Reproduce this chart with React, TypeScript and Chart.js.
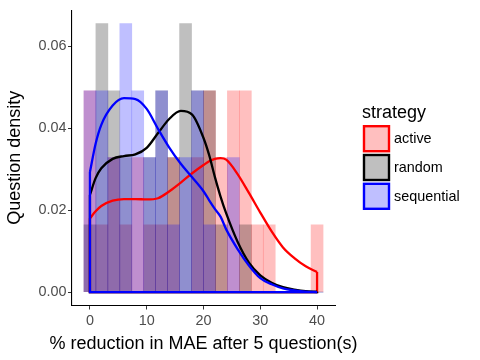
import React, { useEffect, useRef } from "react";
import { Chart, registerables } from "chart.js";

Chart.register(...registerables);

const FONT = '"Liberation Sans", Arial, Helvetica, sans-serif';

const STRATEGIES = ["active", "random", "sequential"];
const LINE_COLORS = ["#FF0000", "#000000", "#0000FF"];
const FILL_COLORS = ["rgba(255,0,0,0.25)", "rgba(0,0,0,0.25)", "rgba(0,0,255,0.25)"];

// histogram bin centres (20 bins over 0..40)
const BIN_CENTERS = [
  0, 2.105, 4.211, 6.316, 8.421, 10.526, 12.632, 14.737, 16.842, 18.947,
  21.053, 23.158, 25.263, 27.368, 29.474, 31.579, 33.684, 35.789, 37.895, 40,
];

// histogram densities per strategy
const HIST_ACTIVE = [
  0.0491, 0.0164, 0.0328, 0.0164, 0.0328, 0.0164, 0.0164, 0.0328, 0, 0.0328,
  0.0491, 0.0328, 0.0491, 0.0491, 0.0164, 0.0164, 0, 0, 0, 0.0164,
];
const HIST_RANDOM = [
  0.0164, 0.0655, 0.0491, 0.0328, 0, 0.0328, 0.0491, 0.0328, 0.0655, 0.0491,
  0.0491, 0.0164, 0, 0.0164, 0, 0, 0, 0, 0, 0,
];
const HIST_SEQUENTIAL = [
  0.0491, 0.0491, 0.0328, 0.0655, 0.0491, 0.0328, 0.0491, 0.0164, 0.0328, 0.0491,
  0.0164, 0, 0.0328, 0, 0, 0, 0, 0, 0, 0,
];

// kernel density curves
const DENS_X = [0, 1, 2, 4, 6, 8, 10, 12, 14, 16, 18, 20, 21, 22, 23, 24, 26, 28, 30, 32, 34, 36, 38, 40];
const DENS_ACTIVE = [
  0.018, 0.0197, 0.021, 0.0223, 0.0227, 0.0227, 0.0226, 0.0229, 0.0246, 0.0267, 0.029, 0.031,
  0.0319, 0.0325, 0.0327, 0.0323, 0.0288, 0.0242, 0.0194, 0.0148, 0.0109, 0.0083, 0.0063, 0.0049,
];
const DENS_RANDOM = [
  0.0237, 0.0278, 0.0302, 0.0325, 0.0332, 0.0336, 0.0352, 0.0388, 0.0423, 0.0442, 0.0433, 0.0376,
  0.0334, 0.0281, 0.0233, 0.0192, 0.0123, 0.0072, 0.0041, 0.0023, 0.0012, 0.0006, 0.0002, 0.0001,
];
const DENS_SEQUENTIAL = [
  0.0293, 0.0362, 0.0408, 0.0455, 0.0473, 0.0471, 0.0447, 0.0398, 0.0352, 0.0313, 0.028, 0.0246,
  0.0224, 0.0203, 0.0184, 0.0153, 0.0105, 0.0065, 0.0034, 0.0019, 0.0009, 0.0004, 0.0001, 0,
];

const X_TICKS = [0, 10, 20, 30, 40];
const Y_TICKS = [0, 0.02, 0.04, 0.06];
const X_RANGE = [-3.158, 43.158];
const Y_RANGE = [-0.003276, 0.068793];
const X_LABEL = "% reduction in MAE after 5 question(s)";
const Y_LABEL = "Question density";
const LEGEND_TITLE = "strategy";

const HISTS = [HIST_ACTIVE, HIST_RANDOM, HIST_SEQUENTIAL];
const DENS = [DENS_ACTIVE, DENS_RANDOM, DENS_SEQUENTIAL];

const TITLE_SIZE = 18;
const TEXT_SIZE = 14.4;

const decorPlugin = {
  id: "ggDecor",
  afterDraw(chart: any) {
    const ctx = chart.ctx as CanvasRenderingContext2D;
    const area = chart.chartArea;
    ctx.save();
    // axis titles
    ctx.fillStyle = "#000000";
    ctx.font = `${TITLE_SIZE}px ${FONT}`;
    ctx.textAlign = "center";
    ctx.textBaseline = "middle";
    ctx.fillText(X_LABEL, (area.left + area.right) / 2, 344);
    ctx.save();
    ctx.translate(15, (area.top + area.bottom) / 2);
    ctx.rotate(-Math.PI / 2);
    ctx.fillText(Y_LABEL, 0, 0);
    ctx.restore();

    // legend
    ctx.textAlign = "left";
    ctx.textBaseline = "alphabetic";
    ctx.fillText(LEGEND_TITLE, 362, 117.5);
    STRATEGIES.forEach((s, i) => {
      const top = 125 + i * 28.8;
      ctx.fillStyle = FILL_COLORS[i];
      ctx.fillRect(364, top + 1, 25, 25);
      ctx.strokeStyle = LINE_COLORS[i];
      ctx.lineWidth = 2.4;
      ctx.strokeRect(364, top + 1.2, 25, 25);
      ctx.fillStyle = "#000000";
      ctx.font = `${TEXT_SIZE}px ${FONT}`;
      ctx.textBaseline = "middle";
      ctx.fillText(s, 394, top + 14);
    });
    ctx.restore();
  },
};

export default function App() {
  const ref = useRef<HTMLCanvasElement | null>(null);

  useEffect(() => {
    if (!ref.current) return;
    const datasets: any[] = [];
    HISTS.forEach((h, k) => {
      datasets.push({
        type: "bar",
        label: STRATEGIES[k] + " hist",
        data: BIN_CENTERS.map((x, i) => ({ x, y: h[i] })),
        backgroundColor: FILL_COLORS[k],
        borderWidth: 0,
        grouped: false,
        barPercentage: 1,
        categoryPercentage: 1,
        order: 5 - k,
      });
    });
    DENS.forEach((d, k) => {
      const last = DENS_X.length - 1;
      datasets.push({
        type: "line",
        label: STRATEGIES[k],
        data: DENS_X.map((x, i) => ({ x, y: d[i] })),
        borderColor: LINE_COLORS[k],
        borderWidth: 2.3,
        pointRadius: 0,
        fill: false,
        cubicInterpolationMode: "monotone",
        order: 2 - k,
      });
      datasets.push({
        type: "line",
        label: STRATEGIES[k] + " edge",
        data: [
          { x: DENS_X[0], y: d[0] },
          { x: DENS_X[0], y: 0 },
          { x: DENS_X[last], y: 0 },
          { x: DENS_X[last], y: d[last] },
        ],
        borderColor: LINE_COLORS[k],
        borderWidth: 2.3,
        pointRadius: 0,
        fill: false,
        tension: 0,
        order: 2 - k,
      });
    });

    const chart = new Chart(ref.current, {
      type: "bar",
      data: { datasets },
      options: {
        animation: false,
        responsive: false,
        maintainAspectRatio: false,
        layout: { padding: { left: 0, top: 9, right: 145, bottom: 0 } },
        plugins: { legend: { display: false }, tooltip: { enabled: false }, title: { display: false } },
        scales: {
          x: {
            type: "linear",
            min: X_RANGE[0],
            max: X_RANGE[1],
            offset: false,
            afterFit: (s: any) => {
              s.height = 54.5;
            },
            afterBuildTicks: (s: any) => {
              s.ticks = X_TICKS.map((v) => ({ value: v }));
            },
            grid: {
              display: true,
              drawOnChartArea: false,
              drawTicks: true,
              tickLength: 4,
              color: "#333333",
              offset: false,
            },
            border: { display: true, color: "#000000", width: 1.1 },
            ticks: {
              autoSkip: false,
              maxRotation: 0,
              padding: 2.5,
              color: "#4D4D4D",
              font: { family: FONT, size: TEXT_SIZE, lineHeight: 1.2 },
              callback: (v: any) => String(v),
            },
            title: { display: false },
          },
          y: {
            type: "linear",
            min: Y_RANGE[0],
            max: Y_RANGE[1],
            afterFit: (s: any) => {
              s.width = 72;
            },
            afterBuildTicks: (s: any) => {
              s.ticks = Y_TICKS.map((v) => ({ value: v }));
            },
            grid: {
              display: true,
              drawOnChartArea: false,
              drawTicks: true,
              tickLength: 4,
              color: "#333333",
            },
            border: { display: true, color: "#000000", width: 1.1 },
            ticks: {
              autoSkip: false,
              padding: 1.5,
              color: "#4D4D4D",
              font: { family: FONT, size: TEXT_SIZE },
              callback: (v: any) => Number(v).toFixed(2),
            },
            title: { display: false },
          },
        },
      },
      plugins: [decorPlugin],
    });
    return () => chart.destroy();
  }, []);

  return (
    <div style={{ position: "absolute", left: 0, top: 0, width: 480, height: 360, background: "#ffffff" }}>
      <canvas ref={ref} width={480} height={360} style={{ display: "block", width: 480, height: 360 }} />
    </div>
  );
}
